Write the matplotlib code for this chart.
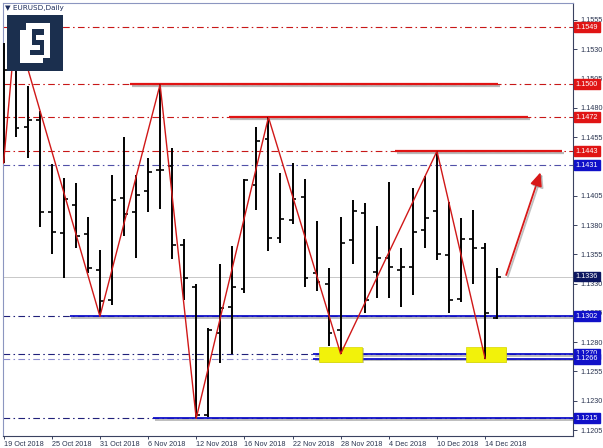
import numpy as np
import matplotlib
matplotlib.use("Agg")
import matplotlib.pyplot as plt
import matplotlib.transforms as mtransforms
import matplotlib.patheffects as pe
from matplotlib.patches import Rectangle

plt.rcParams["font.family"] = ["Liberation Sans", "DejaVu Sans"]

# ---------------- data ----------------
opens = [1.1451, 1.1513, 1.1464, 1.1470, 1.1391, 1.1373, 1.1397, 1.1372, 1.1342, 1.1316,
         1.1403, 1.1391, 1.1409, 1.1427, 1.1430, 1.1363, 1.1327, 1.1218, 1.1288, 1.1310,
         1.1325, 1.1414, 1.1453, 1.1369, 1.1384, 1.1404, 1.1339, 1.1330, 1.1290, 1.1367,
         1.1390, 1.1340, 1.1352, 1.1342, 1.1344, 1.1376, 1.1392, 1.1354, 1.1317, 1.1368,
         1.1360, 1.1301]
highs = [1.1535, 1.1549, 1.1499, 1.1477, 1.1432, 1.1420, 1.1416, 1.1387, 1.1359, 1.1423,
         1.1455, 1.1423, 1.1437, 1.1500, 1.1446, 1.1368, 1.1330, 1.1292, 1.1347, 1.1362,
         1.1419, 1.1464, 1.1472, 1.1424, 1.1433, 1.1419, 1.1383, 1.1343, 1.1387, 1.1401,
         1.1399, 1.1379, 1.1417, 1.1360, 1.1412, 1.1422, 1.1443, 1.1400, 1.1386, 1.1393,
         1.1365, 1.1343]
lows = [1.1433, 1.1455, 1.1437, 1.1378, 1.1355, 1.1335, 1.1360, 1.1339, 1.1302, 1.1312,
        1.1371, 1.1352, 1.1391, 1.1394, 1.1351, 1.1316, 1.1215, 1.1216, 1.1262, 1.1270,
        1.1322, 1.1393, 1.1358, 1.1365, 1.1381, 1.1327, 1.1324, 1.1277, 1.1270, 1.1347,
        1.1305, 1.1318, 1.1318, 1.1310, 1.1320, 1.1360, 1.1350, 1.1305, 1.1314, 1.1330,
        1.1266, 1.1300]
closes = [1.1512, 1.1463, 1.1470, 1.1391, 1.1374, 1.1402, 1.1371, 1.1343, 1.1315, 1.1401,
          1.1389, 1.1406, 1.1425, 1.1427, 1.1363, 1.1335, 1.1218, 1.1290, 1.1309, 1.1327,
          1.1418, 1.1452, 1.1369, 1.1385, 1.1402, 1.1335, 1.1331, 1.1288, 1.1365, 1.1392,
          1.1316, 1.1352, 1.1344, 1.1344, 1.1374, 1.1386, 1.1355, 1.1316, 1.1368, 1.1360,
          1.1305, 1.1336]

date_labels = ["19 Oct 2018", "25 Oct 2018", "31 Oct 2018", "6 Nov 2018", "12 Nov 2018",
               "16 Nov 2018", "22 Nov 2018", "28 Nov 2018", "4 Dec 2018", "10 Dec 2018",
               "14 Dec 2018"]
date_label_bars = [0, 4, 8, 12, 16, 20, 24, 28, 32, 36, 40]

# zigzag pivots (bar index, which extreme)
zz_bars = [0, 1, 8, 13, 16, 22, 28, 36, 40]
zz_kind = ["L", "H", "L", "H", "L", "H", "L", "H", "L"]

# horizontal levels: price, colour kind, solid segment start/end bar (None = none)
levels = [1.1549, 1.1500, 1.1472, 1.1443, 1.1431, 1.1302, 1.1270, 1.1266, 1.1215]
level_kind = ["r", "r", "r", "r", "b", "b", "b", "b2", "b"]
seg_start = [None, 10.5, 18.7, 32.5, None, 5.5, 25.7, 25.7, 12.4]
seg_end = [None, 41.1, 43.6, 46.4, None, 48, 48, 48, 48]

bid_price = 1.1336
yticks = [1.1205, 1.1230, 1.1255, 1.1280, 1.1305, 1.1330, 1.1355, 1.1380, 1.1405,
          1.1430, 1.1455, 1.1480, 1.1505, 1.1530, 1.1555]

arrow_from = (41.75, 1.13373)
arrow_to = (44.6, 1.14250)
yellow_boxes = [(26.2, 29.8), (38.4, 41.7)]
yellow_price = (1.12631, 1.12759)

# ---------------- figure ----------------
W, H = 603, 448
fig = plt.figure(figsize=(W / 100, H / 100), dpi=100)
fig.patch.set_facecolor("white")
ax = fig.add_axes([3 / W, (H - 436) / H, 570 / W, 433 / H])
ax.set_xlim(-0.05, 47.3)
ax.set_ylim(1.11999, 1.15695)

RED = "#e01414"
BLUE = "#1010c8"
NAVY = "#0c1660"
shadow = [pe.SimpleLineShadow(offset=(1.2, -1.2), shadow_color="#808080", alpha=0.55), pe.Normal()]
dd = (0, (6, 3, 1.4, 3))

# dash-dot full-width level lines
dd_color = {"r": "#c81818", "b": "#20207a", "b2": "#8c8cd0"}
for p, k in zip(levels, level_kind):
    c = dd_color[k]
    if p == 1.1431:
        c = "#5050a8"
    ax.axhline(p, color=c, lw=0.8, ls=dd, zorder=1)

# bid line
ax.axhline(bid_price, color="#c8c8c8", lw=0.7, zorder=1)

# solid segments
for p, k, s, e in zip(levels, level_kind, seg_start, seg_end):
    if s is None:
        continue
    c = RED if k == "r" else BLUE
    lw = 1.6 if k == "r" else 1.3
    ax.plot([s, e], [p, p], color=c, lw=lw, solid_capstyle="butt", zorder=3,
            path_effects=shadow)

# yellow boxes
for x0, x1 in yellow_boxes:
    ax.add_patch(Rectangle((x0 + 0.12, yellow_price[0] - 0.00012), x1 - x0, yellow_price[1] - yellow_price[0],
                           facecolor="#9a9a60", edgecolor="none", alpha=0.5, zorder=3.4))
    ax.add_patch(Rectangle((x0, yellow_price[0]), x1 - x0, yellow_price[1] - yellow_price[0],
                           facecolor="#f2f20a", edgecolor="#d8d800", lw=0.5, zorder=3.5))

# OHLC bars
idx = np.arange(len(opens))
tw = 0.32
for i in idx:
    ax.plot([i, i], [lows[i], highs[i]], color="black", lw=1.4, solid_capstyle="butt", zorder=4,
            clip_on=(i != 0))
    ax.plot([i - tw, i], [opens[i], opens[i]], color="black", lw=1.2, solid_capstyle="butt", zorder=4)
    ax.plot([i, i + tw], [closes[i], closes[i]], color="black", lw=1.2, solid_capstyle="butt", zorder=4)

# zigzag
zz_y = [lows[b] if k == "L" else highs[b] for b, k in zip(zz_bars, zz_kind)]
ax.plot(zz_bars, zz_y, color="#d01818", lw=1.0, zorder=5)

# arrow
ax.annotate("", xy=arrow_to, xytext=arrow_from,
            arrowprops=dict(arrowstyle="-|>,head_length=0.8,head_width=0.35", color="#d81818", lw=1.3,
                            shrinkA=0, shrinkB=0,
                            path_effects=[pe.SimpleLineShadow(offset=(1.2, -1.2), shadow_color="#808080", alpha=0.5),
                                          pe.Normal()]),
            zorder=6)

# axes styling
ax.set_facecolor("white")
for side in ["left", "top"]:
    ax.spines[side].set_color("#8c96c0")
    ax.spines[side].set_linewidth(0.8)
for side in ["right", "bottom"]:
    ax.spines[side].set_color("#3a4260")
    ax.spines[side].set_linewidth(0.8)

ax.yaxis.tick_right()
ax.set_yticks(yticks)
ax.set_yticklabels([("" if abs(v - 1.1430) < 1e-6 else f"{v:.4f}") for v in yticks])
ax.tick_params(axis="y", direction="out", length=3, width=0.7, color="#3a4260", pad=2,
               labelsize=5.2, labelcolor="#2a3450")
ax.set_xticks(date_label_bars)
ax.set_xticklabels(date_labels)
ax.tick_params(axis="x", direction="out", length=2.5, width=0.7, color="#3a4260", pad=0.8,
               labelsize=5.2, labelcolor="#2a3450")
for lab in ax.get_xticklabels():
    lab.set_ha("left")

# price boxes on right axis
trans = mtransforms.blended_transform_factory(ax.transAxes, ax.transData)
box_col = {"r": RED, "b": BLUE, "b2": BLUE}
box_items = list(zip(levels, [box_col[k] for k in level_kind])) + [(bid_price, NAVY)]
for p, c in box_items:
    ax.text(1.005, p, f"{p:.4f}", transform=trans, ha="left", va="center", fontsize=5.2,
            color="white", zorder=20, clip_on=False,
            bbox=dict(boxstyle="square,pad=0.2", facecolor=c, edgecolor=c))

# title
fig.text(5 / W, 1 - 8 / H, "▼ EURUSD,Daily", fontsize=5.2, color="#1c2c5c", va="center", ha="left",
         family=["DejaVu Sans"])

# logo
lax = fig.add_axes([7 / W, 1 - 71 / H, 56 / W, 56 / H])
lax.set_xlim(0, 56)
lax.set_ylim(56, 0)
lax.axis("off")
LOGO = "#1b2f4e"
lax.add_patch(Rectangle((0, 0), 56, 56, facecolor=LOGO, edgecolor="none"))
for (x0, y0, x1, y1) in [(19, 8, 43, 43), (13, 15, 25, 48), (13, 40, 36, 48)]:
    lax.add_patch(Rectangle((x0, y0), x1 - x0, y1 - y0, facecolor="white", edgecolor="none"))
for (x0, y0, x1, y1) in [(25, 14, 37, 20), (25, 14, 29, 29), (25, 25, 37, 30), (33, 25, 37, 40), (23, 35, 37, 40)]:
    lax.add_patch(Rectangle((x0, y0), x1 - x0, y1 - y0, facecolor=LOGO, edgecolor="none"))

fig.savefig("out.png", dpi=100)
